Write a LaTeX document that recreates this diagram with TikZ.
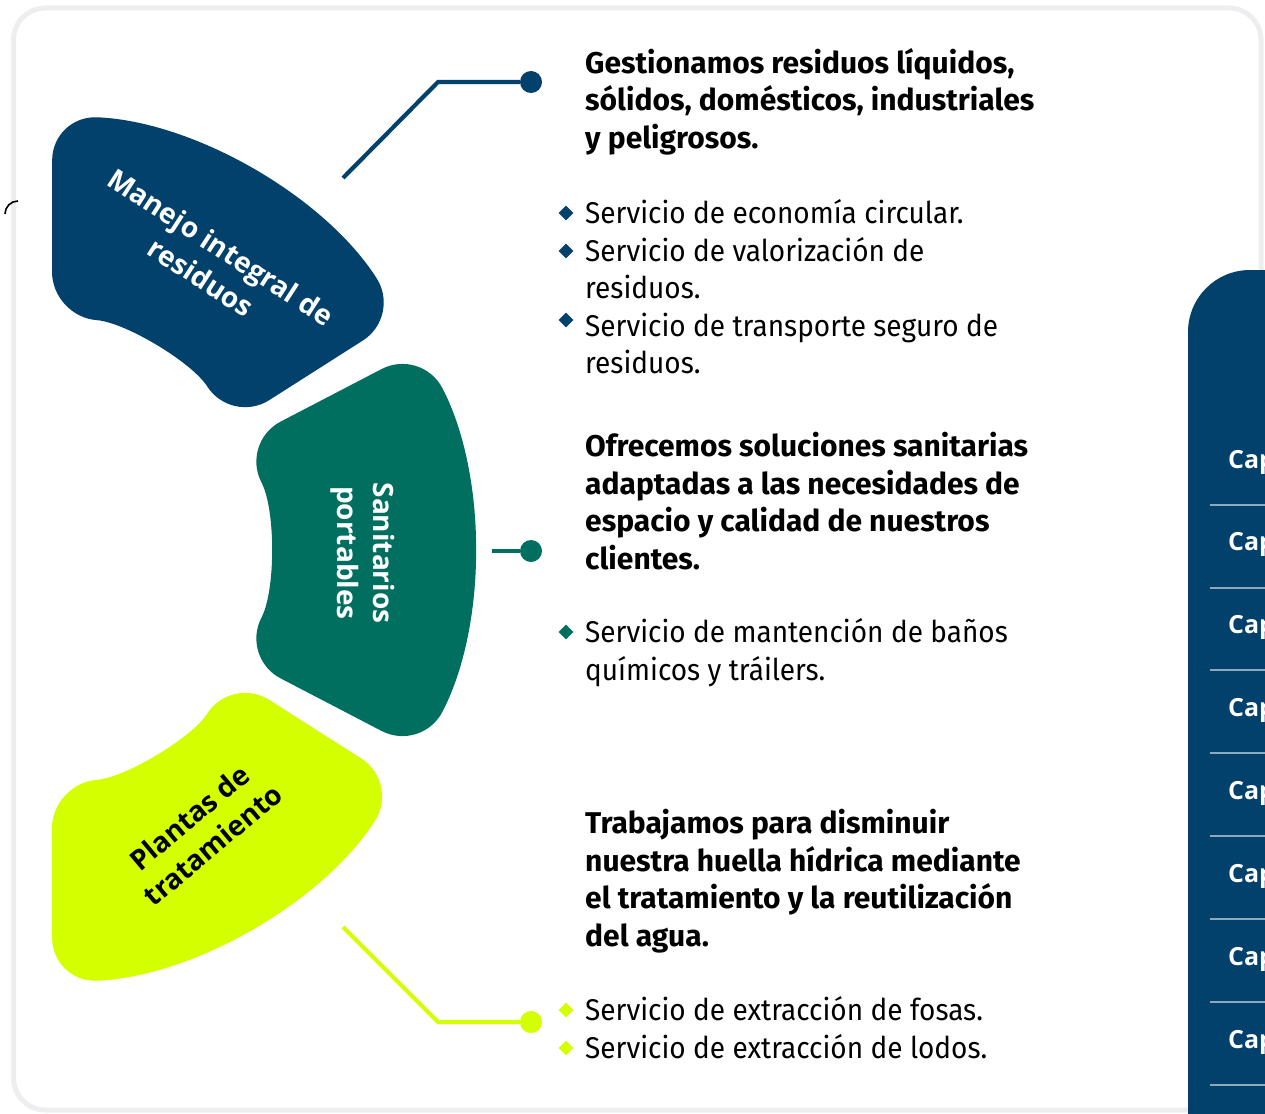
\documentclass[tikz,border=0pt]{standalone}
\usepackage{fontspec}
\setmainfont{Fira Sans}[FakeStretch=0.933]
\newfontfamily\headfamily{Fira Sans}[FakeStretch=1.0]
\newfontfamily\labelfont{Open Sans}
\usetikzlibrary{calc,shapes.geometric}

\definecolor{navy}{HTML}{02416B}
\definecolor{pine}{HTML}{006F5F}
\definecolor{lime}{HTML}{D4FF00}
\definecolor{framegray}{HTML}{EEEDF0}

\newcommand\headfont{\headfamily\fontsize{30}{37.5}\selectfont\bfseries}
\newcommand\itemfont{\fontsize{30}{37.5}\selectfont}
\newcommand\textlines[1]{\begin{tabular}[t]{@{}l@{}}#1\end{tabular}}

\tikzset{
  txt/.style={anchor=base west, inner sep=0pt},
  bul/.style={diamond, fill=#1, inner sep=0pt, minimum size=15pt},
  dot/.style={circle, fill=#1, inner sep=0pt, minimum size=22pt},
  link/.style={#1, line width=4.2pt},
  tag/.style={font=\labelfont\bfseries\fontsize{28}{36}\selectfont, align=center, inner sep=0pt},
  rowtag/.style={anchor=base west, inner sep=0pt, text=white, font=\labelfont\bfseries\fontsize{25}{30}\selectfont}
}

\begin{document}
\begin{tikzpicture}[x=1pt, y=-1pt]
  \useasboundingbox (0,0) rectangle (1265,1113);
  \clip (0,0) rectangle (1265,1113);

  % Card frame
  \draw[framegray, line width=5pt, rounded corners=32pt] (13.5,8) rectangle (1261,1110);
  \draw[line width=1.6pt] (18,201) arc[start angle=-90, end angle=-180, radius=13];

  % Panel cut at the right edge
  \fill[navy, rounded corners=62pt] (1188,1200) rectangle (1340,270);
  \foreach \y in {505,588,670,753,836,919,1002,1085}
    \draw[white!55!navy, line width=1.2pt] (1210,\y) -- (1300,\y);
  \foreach \y [count=\i] in {468,550,633,716,799,882,965,1048}
    \node[rowtag] (c\i) at (1228,\y) {Cap};

  % Three ring pieces round one centre
  \coordinate (C) at (34,550);
  \fill[navy, rounded corners=45pt] ($(C)+(-87.6:435)$) arc[start angle=-87.6, end angle=-32.5, radius=435]
    -- ($(C)+(-32.5:234)$) arc[start angle=-32.5, end angle=-85.6, radius=234] -- cycle;
  \fill[pine, rounded corners=45pt] ($(C)+(-27.5:437)$) arc[start angle=-27.5, end angle=27.5, radius=437]
    -- ($(C)+(27.5:233)$) arc[start angle=27.5, end angle=-27.5, radius=233] -- cycle;
  \fill[lime, rounded corners=45pt] ($(C)+(87.6:433)$) arc[start angle=87.6, end angle=32.5, radius=433]
    -- ($(C)+(32.5:234)$) arc[start angle=32.5, end angle=85.6, radius=234] -- cycle;

  % Labels on the pieces
  \node[tag, white, rotate=-33] (t1) at (211,262) {Manejo integral de\\residuos};
  \node[tag, white, rotate=-90] (t2) at (363,553) {Sanitarios\\portables};
  \node[tag, black, rotate=40] (t3) at (201,831) {Plantas de\\tratamiento};

  % Connectors
  \coordinate (s1) at (343,178);
  \coordinate (k1) at (438,82);
  \node[dot=navy] (d1) at (531,82) {};
  \draw[link=navy] (s1) -- (k1) -- (d1);

  \coordinate (s2) at (492,551);
  \node[dot=pine] (d2) at (531,551) {};
  \draw[link=pine] (s2) -- (d2);

  \coordinate (s3) at (343,927);
  \coordinate (k3) at (438,1022);
  \node[dot=lime] (d3) at (531,1022) {};
  \draw[link=lime] (s3) -- (k3) -- (d3);

  % First block
  \node[txt, font=\headfont] (h1) at (585,73.5) {\textlines{Gestionamos residuos líquidos,\\sólidos, domésticos, industriales\\y peligrosos.}};
  \node[txt, font=\itemfont] (i1) at (585,223.5) {\textlines{Servicio de economía circular.}};
  \node[txt, font=\itemfont] (i2) at (585,261) {\textlines{Servicio de valorización de\\residuos.}};
  \node[txt, font=\itemfont] (i3) at (585,336) {\textlines{Servicio de transporte seguro de\\residuos.}};
  \node[bul=navy] (p1) at (566,213) {};
  \node[bul=navy] (p2) at (566,251) {};
  \node[bul=navy] (p3) at (566,320) {};

  % Second block
  \node[txt, font=\headfont] (h2) at (585,456.5) {\textlines{Ofrecemos soluciones sanitarias\\adaptadas a las necesidades de\\espacio y calidad de nuestros\\clientes.}};
  \node[txt, font=\itemfont] (i4) at (585,642.5) {\textlines{Servicio de mantención de baños\\químicos y tráilers.}};
  \node[bul=pine] (p4) at (566,632) {};

  % Third block
  \node[txt, font=\headfont] (h3) at (585,833.5) {\textlines{Trabajamos para disminuir\\nuestra huella hídrica mediante\\el tratamiento y la reutilización\\del agua.}};
  \node[txt, font=\itemfont] (i5) at (585,1020.5) {\textlines{Servicio de extracción de fosas.}};
  \node[txt, font=\itemfont] (i6) at (585,1058) {\textlines{Servicio de extracción de lodos.}};
  \node[bul=lime] (p5) at (566,1010) {};
  \node[bul=lime] (p6) at (566,1048) {};
\end{tikzpicture}
\end{document}
